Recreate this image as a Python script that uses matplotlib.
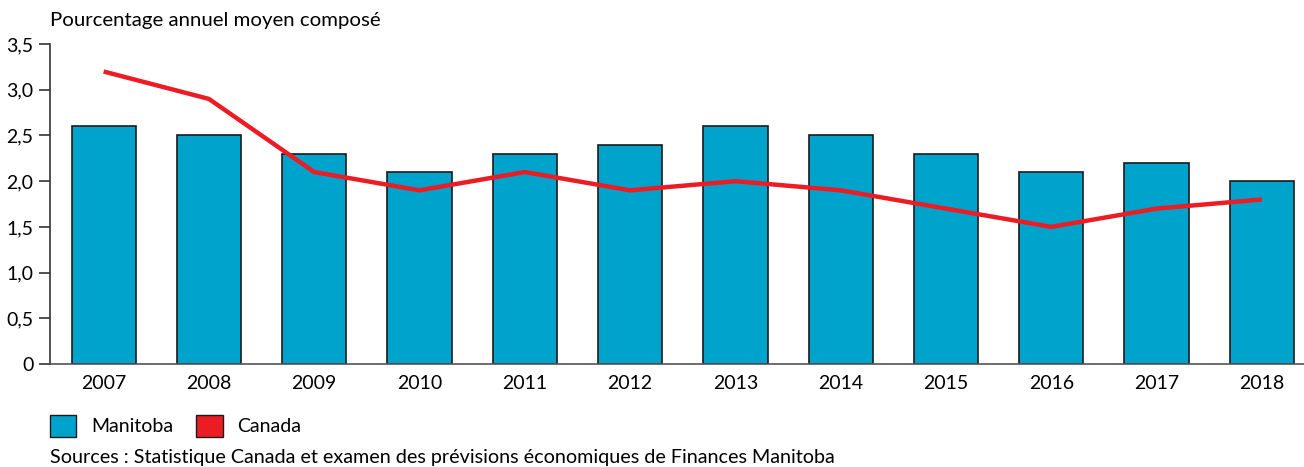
import matplotlib
matplotlib.use('Agg')
import matplotlib.pyplot as plt
from matplotlib.patches import Patch
import numpy as np

# Données
annees = ['2007', '2008', '2009', '2010', '2011', '2012',
          '2013', '2014', '2015', '2016', '2017', '2018']
manitoba = [2.6, 2.5, 2.3, 2.1, 2.3, 2.4, 2.6, 2.5, 2.3, 2.1, 2.2, 2.0]
canada = [3.2, 2.9, 2.1, 1.9, 2.1, 1.9, 2.0, 1.9, 1.7, 1.5, 1.7, 1.8]
yticks = [0, 0.5, 1.0, 1.5, 2.0, 2.5, 3.0, 3.5]
ytick_labels = ['0', '0,5', '1,0', '1,5', '2,0', '2,5', '3,0', '3,5']

bleu = '#00A3CC'
rouge = '#EC1C24'

plt.rcParams['font.family'] = ['Lato', 'DejaVu Sans']

fig = plt.figure(figsize=(13.04, 4.67), dpi=100)
ax = fig.add_axes([0.0383, 0.2206, 0.9617, 0.685])

x = np.arange(len(annees))
ax.bar(x, manitoba, width=0.61, color=bleu, edgecolor='#1a1a1a', linewidth=1.2, zorder=2)
ax.plot(x, canada, color=rouge, linewidth=3.2, zorder=3, solid_capstyle='butt')

ax.set_xlim(-0.51, 11.4)
ax.set_ylim(0, 3.5)
ax.set_yticks(yticks)
ax.set_yticklabels(ytick_labels)
ax.set_xticks(x)
ax.set_xticklabels(annees)
ax.tick_params(axis='y', length=8, width=1.2, color='#333333', labelsize=14, pad=4)
ax.tick_params(axis='x', length=0, labelsize=14, pad=8)
for s in ['top', 'right']:
    ax.spines[s].set_visible(False)
ax.spines['left'].set_color('#333333')
ax.spines['bottom'].set_color('#555555')
ax.spines['left'].set_linewidth(1.2)
ax.spines['bottom'].set_linewidth(1.2)

fig.text(0.0383, 0.975, 'Pourcentage annuel moyen composé', fontsize=14.7,
         ha='left', va='top')

handles = [Patch(facecolor=bleu, edgecolor='#1a1a1a', linewidth=1),
           Patch(facecolor=rouge, edgecolor='#1a1a1a', linewidth=1)]
fig.legend(handles, ['Manitoba', 'Canada'], loc='center left',
           bbox_to_anchor=(0.0325, 0.088), ncol=2, frameon=False,
           fontsize=14, handlelength=1.35, handleheight=1.4,
           handletextpad=0.75, columnspacing=1.2, borderaxespad=0)

fig.text(0.0383, 0.002, 'Sources : Statistique Canada et examen des prévisions économiques de Finances Manitoba',
         fontsize=14.2, ha='left', va='bottom')

fig.savefig('out.png', dpi=100)
